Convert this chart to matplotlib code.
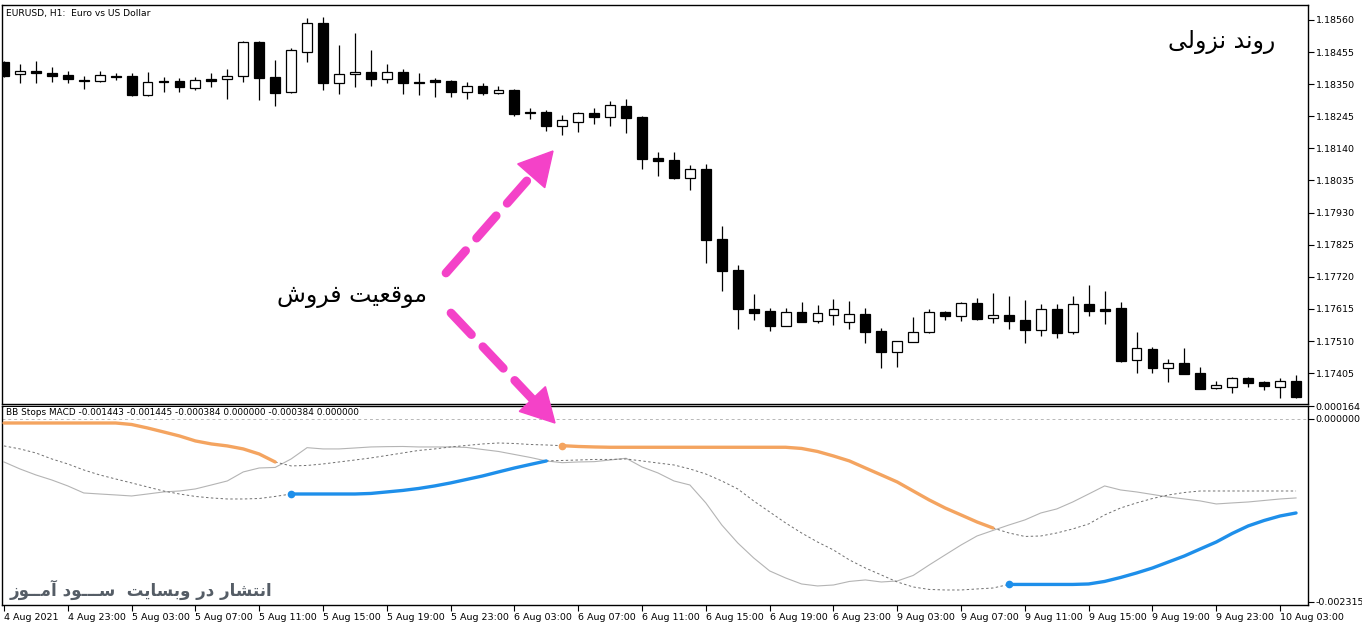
import numpy as np
import matplotlib
matplotlib.use("Agg")
import matplotlib.pyplot as plt
from matplotlib.patches import Polygon

nan = np.nan

# ---------------- data ----------------
opens = [1.18423, 1.18383, 1.18393, 1.18387, 1.18380, 1.18364, 1.18361, 1.18377, 1.18377, 1.18315,
         1.18361, 1.18361, 1.18338, 1.18367, 1.18367, 1.18377, 1.18488, 1.18374, 1.18325, 1.18455,
         1.18550, 1.18354, 1.18383, 1.18390, 1.18367, 1.18390, 1.18357, 1.18364, 1.18361, 1.18325,
         1.18344, 1.18321, 1.18331, 1.18259, 1.18259, 1.18213, 1.18227, 1.18256, 1.18243, 1.18279,
         1.18243, 1.18109, 1.18102, 1.18043, 1.18073, 1.17844, 1.17742, 1.17615, 1.17608, 1.17559,
         1.17605, 1.17576, 1.17595, 1.17572, 1.17599, 1.17543, 1.17474, 1.17507, 1.17540, 1.17605,
         1.17592, 1.17635, 1.17586, 1.17595, 1.17579, 1.17546, 1.17615, 1.17540, 1.17631, 1.17615,
         1.17618, 1.17448, 1.17484, 1.17422, 1.17438, 1.17406, 1.17357, 1.17360, 1.17389, 1.17376,
         1.17360, 1.17380]
highs = [1.18426, 1.18416, 1.18426, 1.18406, 1.18393, 1.18377, 1.18393, 1.18387, 1.18387, 1.18390,
         1.18374, 1.18370, 1.18374, 1.18387, 1.18400, 1.18491, 1.18491, 1.18429, 1.18468, 1.18567,
         1.18570, 1.18478, 1.18518, 1.18462, 1.18416, 1.18400, 1.18387, 1.18370, 1.18364, 1.18357,
         1.18354, 1.18344, 1.18334, 1.18272, 1.18266, 1.18249, 1.18259, 1.18272, 1.18295, 1.18302,
         1.18246, 1.18128, 1.18128, 1.18086, 1.18089, 1.17886, 1.17759, 1.17664, 1.17618, 1.17618,
         1.17638, 1.17628, 1.17648, 1.17641, 1.17618, 1.17553, 1.17510, 1.17589, 1.17615, 1.17608,
         1.17638, 1.17651, 1.17667, 1.17658, 1.17644, 1.17631, 1.17631, 1.17658, 1.17693, 1.17674,
         1.17638, 1.17540, 1.17491, 1.17452, 1.17487, 1.17425, 1.17380, 1.17393, 1.17393, 1.17380,
         1.17389, 1.17399]
lows = [1.18374, 1.18354, 1.18354, 1.18357, 1.18354, 1.18334, 1.18357, 1.18364, 1.18312, 1.18312,
        1.18325, 1.18325, 1.18331, 1.18341, 1.18302, 1.18357, 1.18298, 1.18279, 1.18321, 1.18423,
        1.18331, 1.18318, 1.18341, 1.18344, 1.18354, 1.18318, 1.18315, 1.18308, 1.18308, 1.18302,
        1.18315, 1.18318, 1.18246, 1.18236, 1.18197, 1.18184, 1.18194, 1.18220, 1.18213, 1.18190,
        1.18073, 1.18050, 1.18040, 1.18004, 1.17765, 1.17674, 1.17550, 1.17579, 1.17543, 1.17559,
        1.17572, 1.17569, 1.17563, 1.17550, 1.17504, 1.17422, 1.17425, 1.17507, 1.17537, 1.17579,
        1.17576, 1.17579, 1.17569, 1.17550, 1.17504, 1.17527, 1.17520, 1.17533, 1.17592, 1.17566,
        1.17442, 1.17406, 1.17406, 1.17376, 1.17402, 1.17353, 1.17353, 1.17340, 1.17360, 1.17350,
        1.17324, 1.17324]
closes = [1.18377, 1.18393, 1.18387, 1.18377, 1.18367, 1.18361, 1.18380, 1.18374, 1.18315, 1.18357,
          1.18357, 1.18341, 1.18364, 1.18361, 1.18377, 1.18488, 1.18370, 1.18321, 1.18462, 1.18550,
          1.18354, 1.18383, 1.18390, 1.18367, 1.18390, 1.18354, 1.18354, 1.18357, 1.18325, 1.18344,
          1.18321, 1.18331, 1.18253, 1.18256, 1.18213, 1.18233, 1.18256, 1.18243, 1.18282, 1.18240,
          1.18105, 1.18099, 1.18043, 1.18073, 1.17841, 1.17739, 1.17615, 1.17602, 1.17559, 1.17605,
          1.17572, 1.17602, 1.17615, 1.17599, 1.17540, 1.17474, 1.17510, 1.17540, 1.17605, 1.17592,
          1.17635, 1.17582, 1.17595, 1.17576, 1.17546, 1.17615, 1.17537, 1.17631, 1.17608, 1.17608,
          1.17445, 1.17487, 1.17422, 1.17438, 1.17402, 1.17353, 1.17366, 1.17389, 1.17373, 1.17363,
          1.17380, 1.17327]

# BB Stops MACD indicator
stop_upper = [-0.000051] * 8 + [-0.000070, -0.000114, -0.000164, -0.000215, -0.000278, -0.000316,
              -0.000341, -0.000379, -0.000443, -0.000544] + [nan] * 17 + \
             [-0.000338, -0.000348, -0.000354] + [-0.000358] * 12 + \
             [-0.000373, -0.000411, -0.000468, -0.000531, -0.000620, -0.000708, -0.000797,
              -0.000911, -0.001024, -0.001126, -0.001214, -0.001303, -0.001379] + [nan] * 19
stop_lower = [nan] * 18 + [-0.000949] * 5 + [-0.000942, -0.000923, -0.000904, -0.000879, -0.000847,
              -0.000809, -0.000765, -0.000721, -0.000670, -0.000620, -0.000575, -0.000531] + \
             [nan] * 28 + [-0.002093] * 5 + \
             [-0.002087, -0.002055, -0.002005, -0.001948, -0.001885, -0.001809, -0.001733,
              -0.001644, -0.001556, -0.001448, -0.001353, -0.001284, -0.001227, -0.001189]
trail_lower = [-0.000341, -0.000379, -0.000430, -0.000506, -0.000569, -0.000645, -0.000708,
               -0.000759, -0.000809, -0.000860, -0.000911, -0.000949, -0.000980, -0.000999,
               -0.001012, -0.001012, -0.001006, -0.000980, -0.000949] + [nan] * 15 + \
              [-0.000531, -0.000525, -0.000519, -0.000512, -0.000512, -0.000506, -0.000531,
               -0.000557, -0.000582, -0.000632, -0.000696, -0.000784, -0.000885, -0.001037,
               -0.001176, -0.001315, -0.001442, -0.001556, -0.001657, -0.001783, -0.001885,
               -0.001973, -0.002062, -0.002125, -0.002156, -0.002163, -0.002163, -0.002150,
               -0.002138, -0.002093] + [nan] * 18
trail_upper = [nan] * 17 + [-0.000544, -0.000594, -0.000588, -0.000569, -0.000544, -0.000519,
               -0.000493, -0.000462, -0.000430, -0.000398, -0.000379, -0.000354, -0.000335,
               -0.000316, -0.000304, -0.000310, -0.000323, -0.000329, -0.000338] + [nan] * 26 + \
              [-0.001379, -0.001442, -0.001486, -0.001480, -0.001442, -0.001391, -0.001328,
               -0.001214, -0.001126, -0.001062, -0.001006, -0.000961, -0.000930] + [-0.000911] * 7
macd = [-0.000544, -0.000632, -0.000708, -0.000772, -0.000847, -0.000936, -0.000949, -0.000961,
        -0.000974, -0.000949, -0.000923, -0.000911, -0.000885, -0.000835, -0.000784, -0.000670,
        -0.000620, -0.000613, -0.000506, -0.000363, -0.000379, -0.000379, -0.000367, -0.000354,
        -0.000350, -0.000348, -0.000354, -0.000354, -0.000354, -0.000360, -0.000386, -0.000411,
        -0.000449, -0.000487, -0.000531, -0.000553, -0.000544, -0.000540, -0.000519, -0.000497,
        -0.000607, -0.000683, -0.000784, -0.000835, -0.001062, -0.001341, -0.001568, -0.001758,
        -0.001922, -0.002011, -0.002087, -0.002112, -0.002100, -0.002055, -0.002036, -0.002062,
        -0.002049, -0.001979, -0.001847, -0.001720, -0.001594, -0.001480, -0.001410, -0.001341,
        -0.001277, -0.001189, -0.001138, -0.001050, -0.000949, -0.000847, -0.000898, -0.000923,
        -0.000955, -0.000987, -0.001012, -0.001037, -0.001075, -0.001062, -0.001050, -0.001031,
        -0.001012, -0.000999]

price_ticks = [1.17405, 1.17510, 1.17615, 1.17720, 1.17825, 1.17930, 1.18035, 1.18140,
               1.18245, 1.18350, 1.18455, 1.18560]
ind_ticks = [0.000164, 0.0, -0.002315]
ind_tick_labels = ["0.000164", "0.000000", "-0.002315"]
time_labels = ["4 Aug 2021", "4 Aug 23:00", "5 Aug 03:00", "5 Aug 07:00", "5 Aug 11:00",
               "5 Aug 15:00", "5 Aug 19:00", "5 Aug 23:00", "6 Aug 03:00", "6 Aug 07:00",
               "6 Aug 11:00", "6 Aug 15:00", "6 Aug 19:00", "6 Aug 23:00", "9 Aug 03:00",
               "9 Aug 07:00", "9 Aug 11:00", "9 Aug 15:00", "9 Aug 19:00", "9 Aug 23:00",
               "10 Aug 03:00"]
label_every = 4

# Persian texts (shaped presentation forms, visual order)
txt_trend = "\uFEF0\uFEDF\uFEED\uFEB0\uFEE7 \uFEAA\uFEE7\uFEED\uFEAD"          # روند نزولی
txt_sell = "\uFEB5\uFEED\uFEAE\uFED3 \uFE96\uFEF4\uFECC\uFED7\uFEEE\uFEE3"      # موقعیت فروش
txt_wm = ("\uFEAF\uFEEE\u0640\u0640\uFEE3\uFE81 \uFEA9\uFEEE\u0640\u0640\u0640\uFEB3  "
          "\uFE96\uFEF3\uFE8E\uFEB4\uFE91\uFEED \uFEAD\uFEA9 \uFEAD\uFE8E\uFEB8\uFE98\uFEE7\uFE8D")  # انتشار در وبسایت سود آموز

# ---------------- figure ----------------
W, H = 1362, 628
fig = plt.figure(figsize=(W / 100, H / 100), dpi=100)
fig.patch.set_facecolor("white")

def fr(x0, y0, x1, y1):
    return [x0 / W, 1 - y1 / H, (x1 - x0) / W, (y1 - y0) / H]

ax = fig.add_axes(fr(2, 5, 1308, 404))
axi = fig.add_axes(fr(2, 406, 1308, 605))

n = len(opens)
x = np.arange(n)
o = np.array(opens); c = np.array(closes); h = np.array(highs); l = np.array(lows)
up = c >= o

ax.vlines(x, l, h, color="black", lw=0.9, zorder=2)
bottoms = np.minimum(o, c)
heights = np.maximum(np.abs(c - o), 1e-6)
ax.bar(x[up], heights[up], bottom=bottoms[up], width=0.62, facecolor="white",
       edgecolor="black", linewidth=0.9, zorder=3)
ax.bar(x[~up], heights[~up], bottom=bottoms[~up], width=0.62, facecolor="black",
       edgecolor="black", linewidth=0.9, zorder=3)

xmin, xmax = -0.125, 81.75
ax.set_xlim(xmin, xmax)
ax.set_ylim(1.17304, 1.18609)
ax.set_xticks([])
ax.yaxis.tick_right()
ax.set_yticks(price_ticks)
ax.set_yticklabels([f"{v:.5f}" for v in price_ticks])
ax.tick_params(axis="y", direction="out", length=4, width=0.8, labelsize=6.8, pad=1.5)
for s in ax.spines.values():
    s.set_linewidth(1.0)
ax.text(0.003, 0.99, "EURUSD, H1:  Euro vs US Dollar", transform=ax.transAxes,
        ha="left", va="top", fontsize=6.6, family="DejaVu Sans")

# indicator
orange = "#F4A460"
blue = "#1E8FEA"
axi.axhline(0, color="#B8B8B8", lw=0.7, ls=(0, (3, 3)), zorder=1)
axi.plot(x, macd, color="#B4B4B4", lw=0.8, zorder=2)
axi.plot(x, trail_lower, color="#707070", lw=0.7, ls=(0, (2.5, 2.5)), zorder=2)
axi.plot(x, trail_upper, color="#707070", lw=0.7, ls=(0, (2.5, 2.5)), zorder=2)
axi.plot(x, stop_upper, color=orange, lw=2.4, solid_capstyle="round", zorder=3)
axi.plot(x, stop_lower, color=blue, lw=2.4, solid_capstyle="round", zorder=3)
# signal dots at the first bar of each new stop segment
su = np.array(stop_upper); sl = np.array(stop_lower)
for arr, col in ((su, orange), (sl, blue)):
    valid = ~np.isnan(arr)
    starts = [i for i in range(1, n) if valid[i] and not valid[i - 1]]
    axi.plot(starts, arr[starts], "o", color=col, ms=4.5, zorder=4)

axi.set_xlim(xmin, xmax)
axi.set_ylim(-0.002353, 0.000164)
axi.yaxis.tick_right()
axi.set_yticks(ind_ticks)
axi.set_yticklabels(ind_tick_labels)
axi.tick_params(axis="y", direction="out", length=4, width=0.8, labelsize=6.8, pad=1.5)
axi.set_xticks(x[::label_every][:len(time_labels)])
axi.set_xticklabels(time_labels)
axi.tick_params(axis="x", direction="out", length=4, width=0.8, labelsize=6.8, pad=1.5)
for lab in axi.get_xticklabels():
    lab.set_ha("left")
for s in axi.spines.values():
    s.set_linewidth(1.0)
axi.text(0.003, 0.965, "BB Stops MACD -0.001443 -0.001445 -0.000384 0.000000 -0.000384 0.000000",
         transform=axi.transAxes, ha="left", va="center", fontsize=6.4, family="DejaVu Sans",
         bbox=dict(facecolor="white", edgecolor="none", pad=1.0), zorder=5)

# ---------------- overlay: annotations ----------------
ov = fig.add_axes([0, 0, 1, 1], zorder=10)
ov.set_xlim(0, W)
ov.set_ylim(H, 0)
ov.axis("off")
ov.patch.set_alpha(0)

pink = "#F442C8"

def dashed_arrow(tail, tip, head_len=33, head_half=18):
    tail = np.array(tail, float); tip = np.array(tip, float)
    d = tip - tail
    u = d / np.hypot(*d)
    nvec = np.array([-u[1], u[0]])
    base = tip - head_len * u
    end = base + 4 * u
    ov.plot([tail[0], end[0]], [tail[1], end[1]], color=pink, lw=6.3,
            dashes=(3.4, 1.9), dash_capstyle="round", solid_capstyle="round")
    ov.add_patch(Polygon([base + head_half * nvec, tip, base - head_half * nvec],
                         closed=True, facecolor=pink, edgecolor=pink, lw=1))

dashed_arrow((446, 273), (553, 151))
dashed_arrow((451, 313), (555, 423))

ov.text(352, 296, txt_sell, ha="center", va="center", fontsize=17, family="DejaVu Sans",
        color="black")
ov.text(1222, 42, txt_trend, ha="center", va="center", fontsize=17, family="DejaVu Sans",
        color="black")
ov.text(10, 590, txt_wm, ha="left", va="center", fontsize=12, family="DejaVu Sans",
        fontweight="bold", color="#555D66")

fig.savefig("out.png", dpi=100, facecolor="white")
